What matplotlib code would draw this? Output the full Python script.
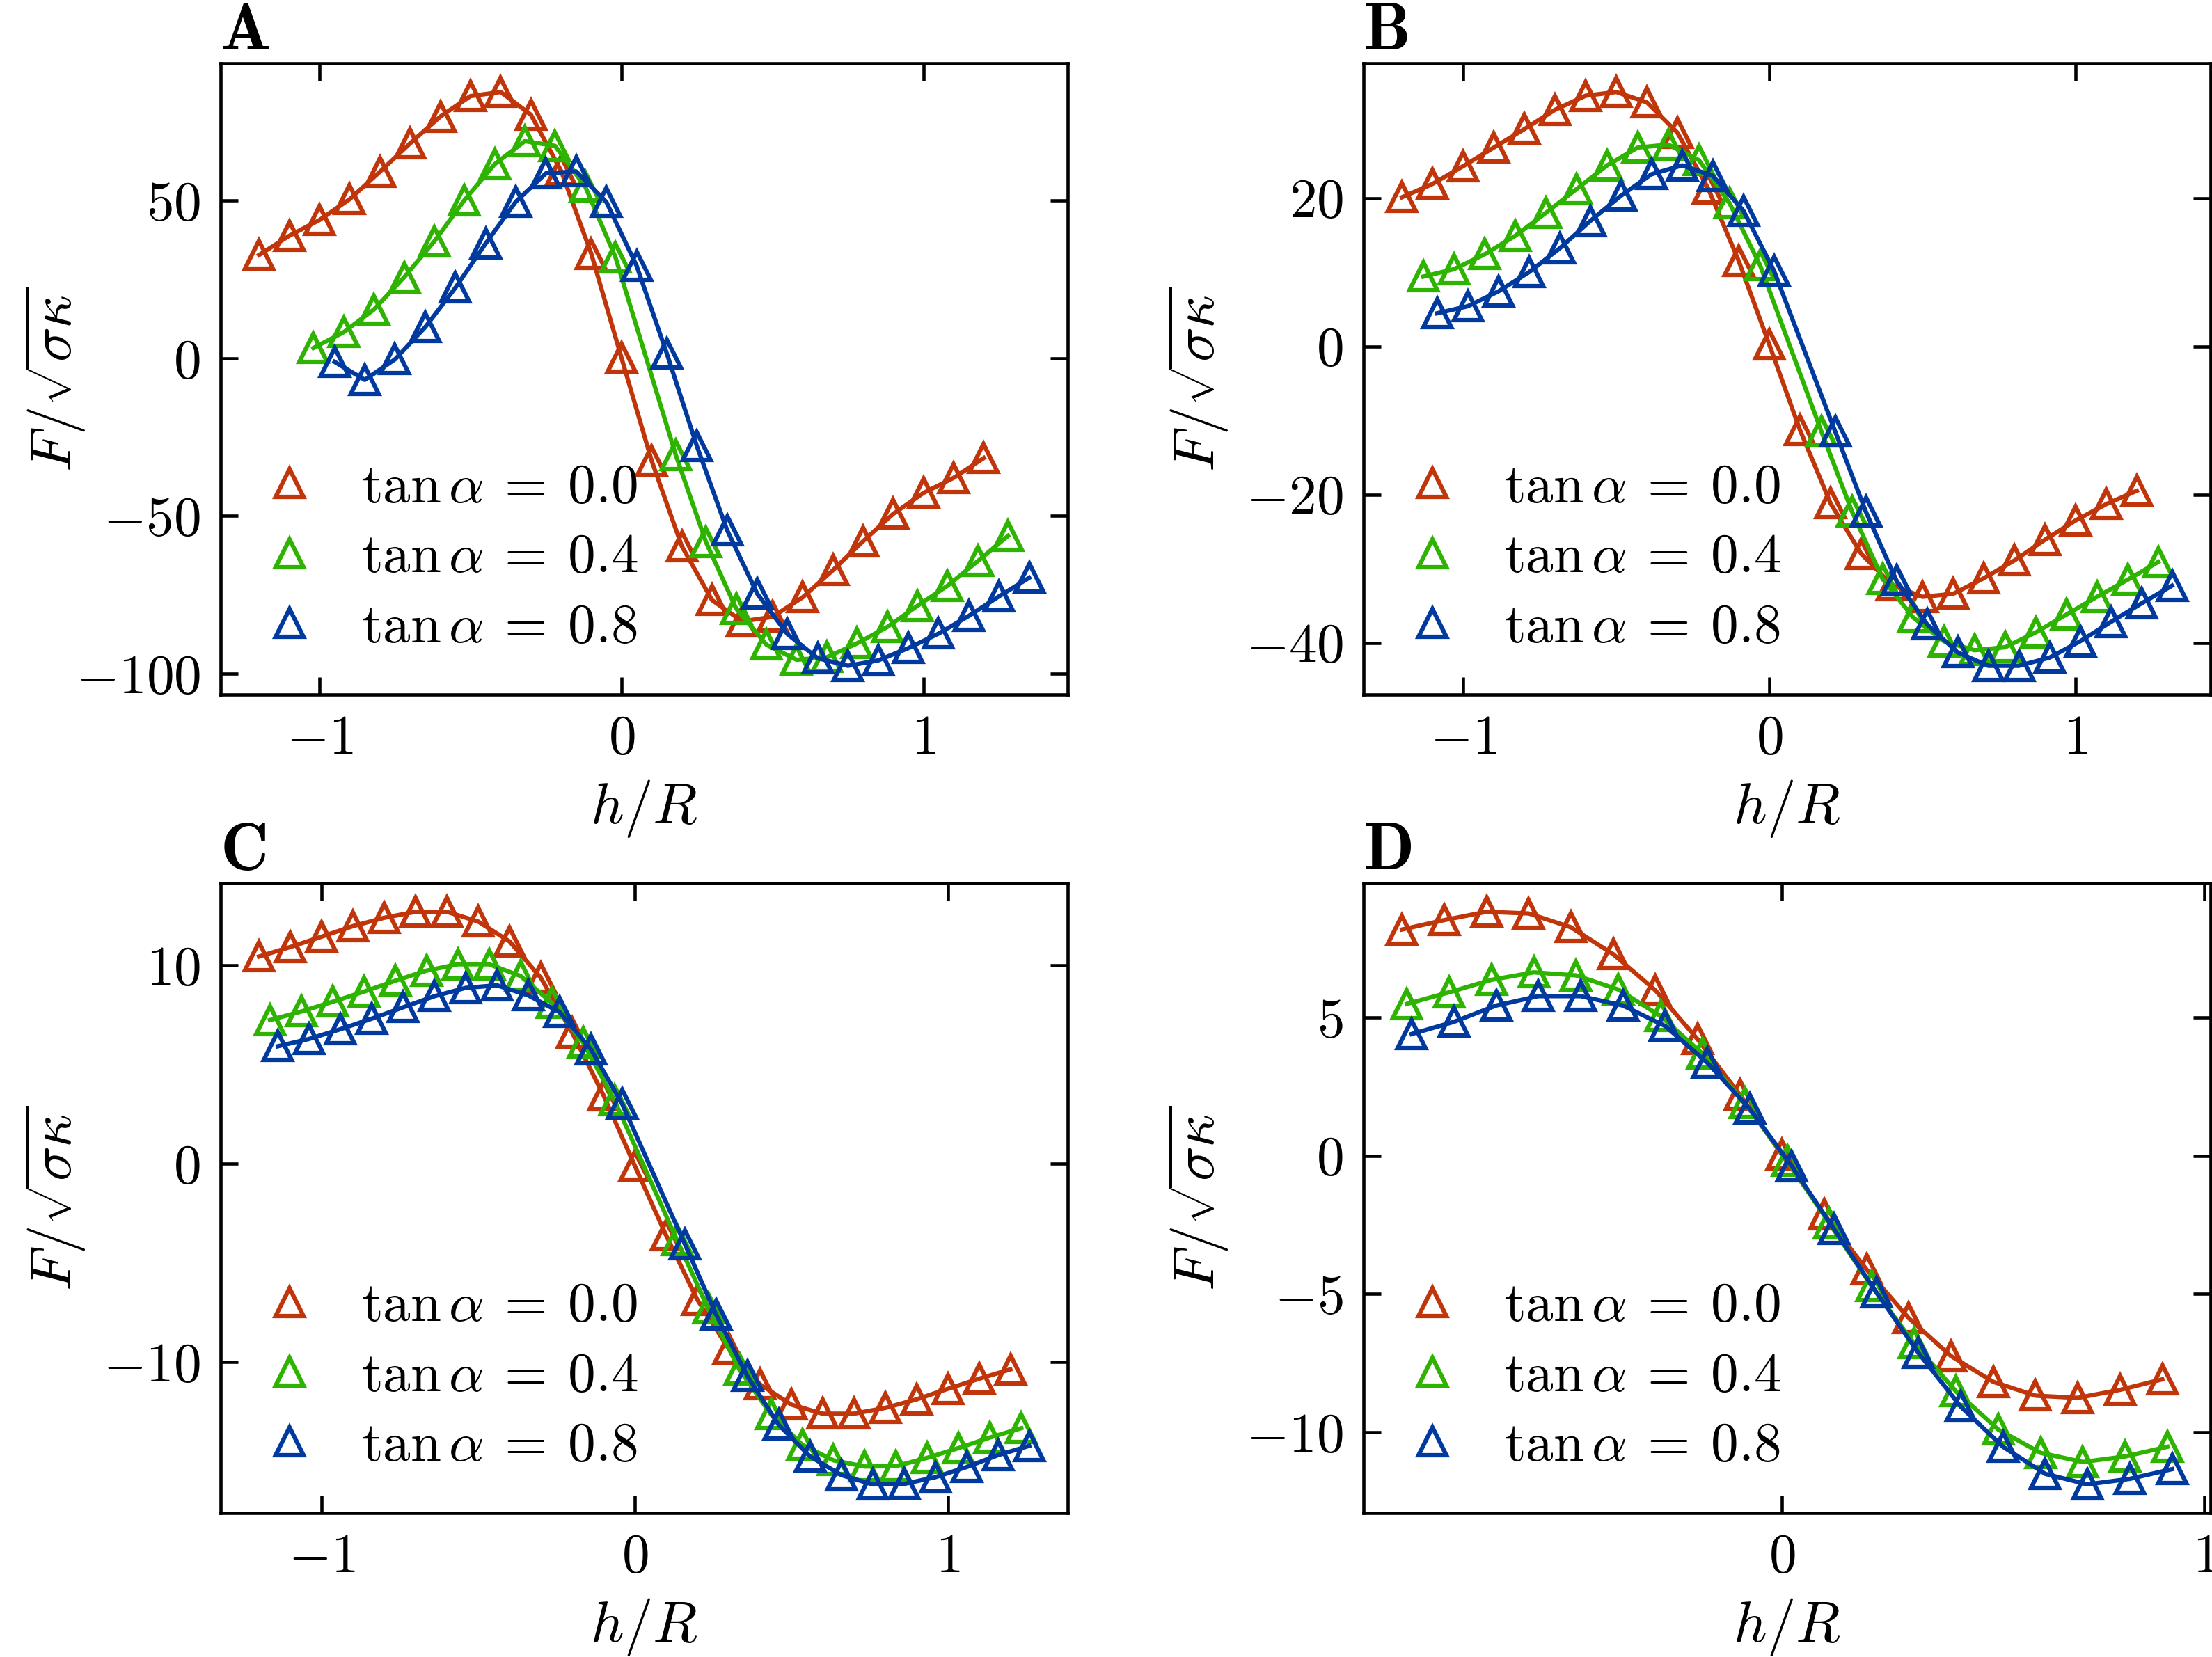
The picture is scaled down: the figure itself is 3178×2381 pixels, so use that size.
import matplotlib
matplotlib.use("Agg")
import matplotlib.pyplot as plt
from matplotlib.ticker import MultipleLocator

plt.rcParams["font.family"] = "serif"
plt.rcParams["font.serif"] = ["cmr10"]
plt.rcParams["mathtext.fontset"] = "cm"
plt.rcParams["axes.formatter.use_mathtext"] = True

labels = [r"$\tan\alpha\:=\:0.0$", r"$\tan\alpha\:=\:0.4$", r"$\tan\alpha\:=\:0.8$"]
colors = ["#c0360a", "#2db300", "#003a9f"]

x_red = [-1.2, -1.1, -1.0, -0.9, -0.8, -0.7, -0.6, -0.5, -0.4, -0.3, -0.2, -0.1, 0.0,
         0.1, 0.2, 0.3, 0.4, 0.5, 0.6, 0.7, 0.8, 0.9, 1.0, 1.1, 1.2]

# panel A
a_x_green = [-1.02, -0.92, -0.82, -0.72, -0.62, -0.52, -0.42, -0.32, -0.22, -0.12, -0.02,
             0.18, 0.28, 0.38, 0.48, 0.58, 0.68, 0.78, 0.88, 0.98, 1.08, 1.18, 1.28]
a_x_blue = [-0.95, -0.85, -0.75, -0.65, -0.55, -0.45, -0.35, -0.25, -0.15, -0.05, 0.05, 0.15,
            0.25, 0.35, 0.45, 0.55, 0.65, 0.75, 0.85, 0.95, 1.05, 1.15, 1.25, 1.35]
a_red = [32.8, 38.9, 43.9, 50.5, 59.2, 68.2, 76.7, 83.2, 84.5, 77.3, 59.5, 33.2, 0.2,
         -32.5, -59.6, -76.7, -83.4, -82.0, -75.8, -67.2, -58.0, -49.3, -42.7, -37.9, -31.6]
a_green = [3.3, 8.3, 15.5, 25.7, 37.1, 50.2, 61.6, 68.9, 67.4, 54.5, 32.1,
           -30.7, -58.3, -79.4, -90.8, -95.6, -94.8, -90.4, -85.2, -78.5, -72.1, -64.3, -56.3]
a_blue = [-1.1, -6.8, -0.3, 9.9, 22.4, 36.4, 49.7, 58.7, 59.3, 49.6, 29.4, 1.6,
          -27.9, -54.5, -74.7, -87.5, -95.1, -97.5, -95.8, -91.9, -87.3, -81.7, -75.5, -69.6]

# panel B
b_x_green = [-1.13, -1.03, -0.93, -0.83, -0.73, -0.63, -0.53, -0.43, -0.33, -0.23, -0.13, -0.03,
             0.17, 0.27, 0.37, 0.47, 0.57, 0.67, 0.77, 0.87, 0.97, 1.07, 1.17, 1.27]
b_x_blue = [-1.085, -0.985, -0.885, -0.785, -0.685, -0.585, -0.485, -0.385, -0.285, -0.185,
            -0.085, 0.015, 0.215, 0.315, 0.415, 0.515, 0.615, 0.715, 0.815, 0.915, 1.015,
            1.115, 1.215, 1.315]
b_red = [20.1, 21.9, 24.3, 26.8, 29.3, 31.9, 33.8, 34.3, 32.9, 28.8, 21.3, 11.5, 0.2,
         -11.3, -21.2, -28.0, -32.2, -33.8, -33.4, -31.3, -28.9, -26.1, -23.5, -21.3, -19.5]
b_green = [9.4, 10.4, 12.4, 14.9, 18.0, 21.2, 24.4, 26.8, 27.2, 25.1, 19.3, 10.9,
           -11.5, -22.3, -31.4, -36.6, -39.8, -41.0, -40.6, -38.6, -36.2, -33.8, -31.5, -29.1]
b_blue = [4.45, 5.4, 7.4, 10.0, 13.2, 16.9, 20.3, 23.2, 24.4, 23.0, 18.3, 10.2,
          -11.5, -22.3, -31.6, -37.5, -41.3, -43.1, -43.1, -42.0, -39.8, -37.2, -34.7, -32.3]

# panel C
c_x_green = [-1.165, -1.065, -0.965, -0.865, -0.765, -0.665, -0.565, -0.465, -0.365, -0.265,
             -0.165, -0.065, 0.135, 0.235, 0.335, 0.435, 0.535, 0.635, 0.735, 0.835, 0.935,
             1.035, 1.135, 1.235]
c_x_blue = [-1.14, -1.04, -0.94, -0.84, -0.74, -0.64, -0.54, -0.44, -0.34, -0.24, -0.14, -0.04,
            0.16, 0.26, 0.36, 0.46, 0.56, 0.66, 0.76, 0.86, 0.96, 1.06, 1.16, 1.26]
c_red = [10.43, 10.91, 11.43, 11.96, 12.38, 12.68, 12.68, 12.19, 11.19, 9.36, 6.6, 3.45, -0.1,
         -3.6, -6.85, -9.32, -11.11, -12.13, -12.59, -12.59, -12.30, -11.87, -11.34, -10.83,
         -10.36]
c_green = [7.23, 7.66, 8.15, 8.66, 9.21, 9.72, 10.04, 10.04, 9.45, 8.1, 6.1, 3.2,
           -3.85, -7.30, -10.38, -12.62, -14.15, -14.94, -15.25, -15.23, -14.81, -14.32,
           -13.79, -13.32]
c_blue = [5.91, 6.28, 6.77, 7.30, 7.87, 8.43, 8.85, 8.98, 8.47, 7.63, 5.76, 3.0,
          -4.05, -7.6, -10.70, -13.15, -14.74, -15.68, -16.15, -16.13, -15.79, -15.28,
          -14.68, -14.21]

# panel D
d_x_red = [-0.9, -0.8, -0.7, -0.6, -0.5, -0.4, -0.3, -0.2, -0.1, 0.0, 0.1, 0.2, 0.3, 0.4,
           0.5, 0.6, 0.7, 0.8, 0.9]
d_x_green = [-0.888, -0.788, -0.688, -0.588, -0.488, -0.388, -0.288, -0.188, -0.088, 0.012,
             0.112, 0.212, 0.312, 0.412, 0.512, 0.612, 0.712, 0.812, 0.912]
d_x_blue = [-0.877, -0.777, -0.677, -0.577, -0.477, -0.377, -0.277, -0.177, -0.077, 0.023,
            0.123, 0.223, 0.323, 0.423, 0.523, 0.623, 0.723, 0.823, 0.923]
d_red = [8.18, 8.52, 8.82, 8.76, 8.26, 7.29, 5.98, 4.21, 2.2, 0.03, -2.13, -4.12, -5.88,
         -7.25, -8.18, -8.68, -8.76, -8.47, -8.09]
d_green = [5.49, 5.91, 6.36, 6.63, 6.52, 6.01, 5.05, 3.68, 1.9, -0.18, -2.45, -4.72, -6.78,
           -8.53, -9.91, -10.75, -11.08, -10.88, -10.53]
d_blue = [4.40, 4.84, 5.43, 5.77, 5.77, 5.43, 4.69, 3.36, 1.70, -0.38, -2.66, -4.94, -7.14,
          -9.08, -10.53, -11.51, -11.89, -11.69, -11.34]


def draw_panel(ax, xs, ys, letter, ystep):
    for x, y, c, lab in zip(xs, ys, colors, labels):
        ax.plot(x, y, "-", color=c, lw=1.5)
        ax.plot(x, y, "^", ls="none", mfc="none", mec=c, ms=9.5, mew=1.5, label=lab)
    ax.xaxis.set_major_locator(MultipleLocator(1))
    ax.yaxis.set_major_locator(MultipleLocator(ystep))
    ax.tick_params(direction="in", top=True, right=True, length=6, width=1.1,
                   labelsize=19, pad=7)
    for s in ax.spines.values():
        s.set_linewidth(1.1)
    ax.set_xlabel(r"$h/R$", fontsize=20)
    ax.set_ylabel(r"$F/\sqrt{\sigma\kappa}$", fontsize=20)
    ax.xaxis.set_label_coords(0.5, -0.132)
    ax.yaxis.set_label_coords(-0.158, 0.5)
    ax.legend(loc="lower left", frameon=False, fontsize=19, handlelength=1.0,
              handletextpad=0.8, labelspacing=0.36, borderaxespad=0.35)
    pos = ax.get_position()
    ax.figure.text(pos.x0, pos.y1 + 0.0084, letter, fontfamily="cmb10", fontsize=23,
                   va="baseline", ha="left")


fig = plt.figure(figsize=(3179 / 300, 2381 / 300), dpi=300)
ax_a = fig.add_axes([0.0997, 0.5809, 0.3828, 0.3809])
ax_b = fig.add_axes([0.6162, 0.5809, 0.3828, 0.3809])
ax_c = fig.add_axes([0.0997, 0.0869, 0.3828, 0.3801])
ax_d = fig.add_axes([0.6162, 0.0869, 0.3828, 0.3801])

draw_panel(ax_a, [x_red, a_x_green, a_x_blue], [a_red, a_green, a_blue], "A", 50)
draw_panel(ax_b, [x_red, b_x_green, b_x_blue], [b_red, b_green, b_blue], "B", 20)
draw_panel(ax_c, [x_red, c_x_green, c_x_blue], [c_red, c_green, c_blue], "C", 10)
draw_panel(ax_d, [d_x_red, d_x_green, d_x_blue], [d_red, d_green, d_blue], "D", 5)

fig.savefig("out.png", dpi=300)
